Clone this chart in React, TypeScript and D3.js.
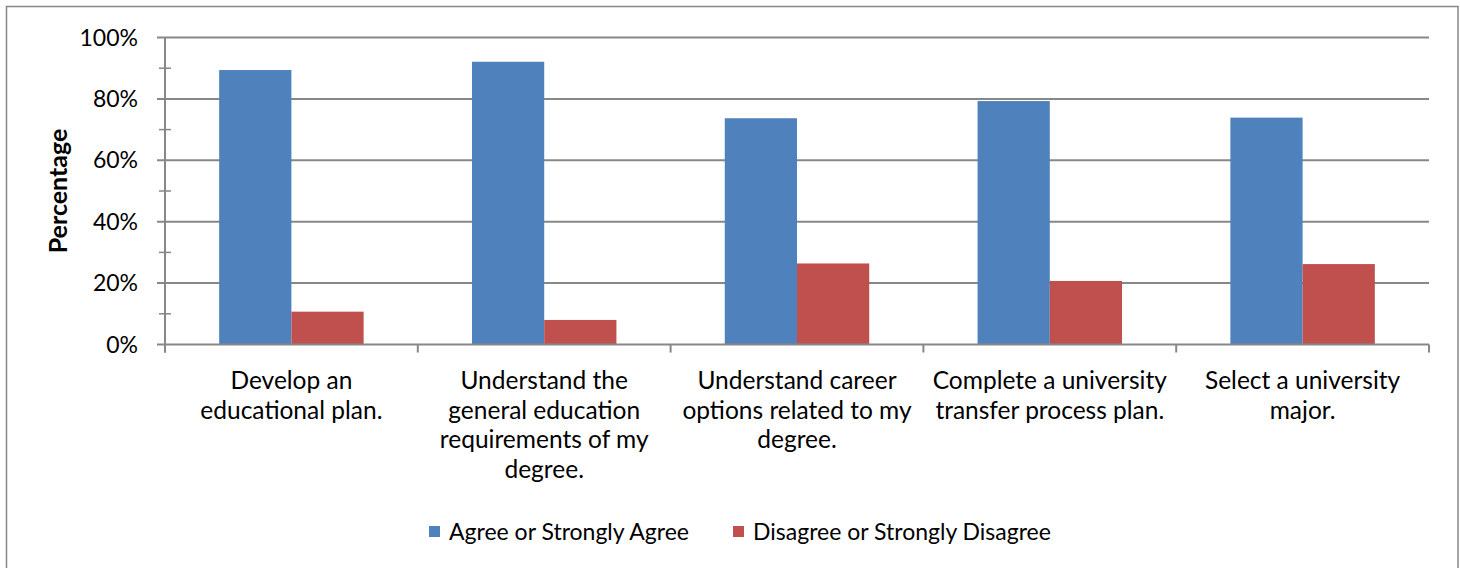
import { useEffect, useRef } from 'react';
import * as d3 from 'd3';

const categories = [
  ['Develop an', 'educational plan.'],
  ['Understand the', 'general education', 'requirements of my', 'degree.'],
  ['Understand career', 'options related to my', 'degree.'],
  ['Complete a university', 'transfer process plan.'],
  ['Select a university', 'major.'],
];
const seriesNames = ['Agree or Strongly Agree', 'Disagree or Strongly Disagree'];
const agree = [89.4, 92.1, 73.7, 79.3, 73.9];
const disagree = [10.7, 8.0, 26.4, 20.7, 26.2];
const yTicks = [0, 20, 40, 60, 80, 100];
const colors = ['#4f81bd', '#c0504d'];

const W = 1460;
const H = 568;
const FONT = 'Lato, "Open Sans", sans-serif';

export default function App() {
  const ref = useRef<SVGSVGElement>(null);

  useEffect(() => {
    const svg = d3.select(ref.current);
    svg.selectAll('*').remove();

    const m = { left: 165, right: 1429, top: 37.5, bottom: 344.5 };
    const grid = '#878787';

    svg.append('rect')
      .attr('x', 6.5).attr('y', 6.5).attr('width', 1451.5).attr('height', 600)
      .attr('fill', '#fff').attr('stroke', '#878787').attr('stroke-width', 1.5);

    const x0 = d3.scaleBand<number>().domain(d3.range(categories.length)).range([m.left, m.right]);
    const x1 = d3.scaleBand<number>().domain([0, 1]).range([0, x0.bandwidth()]).paddingOuter(0.75);
    const y = d3.scaleLinear().domain([0, 100]).range([m.bottom, m.top]);

    // gridlines
    svg.append('g').selectAll('line').data(yTicks.slice(1)).join('line')
      .attr('x1', m.left - 8).attr('x2', m.right)
      .attr('y1', d => y(d)).attr('y2', d => y(d))
      .attr('stroke', grid).attr('stroke-width', 2);

    // minor ticks
    svg.append('g').selectAll('line').data(d3.range(10, 100, 20)).join('line')
      .attr('x1', m.left - 6).attr('x2', m.left + 6)
      .attr('y1', d => y(d)).attr('y2', d => y(d))
      .attr('stroke', grid).attr('stroke-width', 1.5);

    // bars
    const data = [agree, disagree];
    const g = svg.append('g');
    categories.forEach((_, i) => {
      data.forEach((vals, s) => {
        g.append('rect')
          .attr('x', x0(i)! + x1(s)!)
          .attr('width', x1.bandwidth())
          .attr('y', y(vals[i]))
          .attr('height', y(0) - y(vals[i]))
          .attr('fill', colors[s]);
      });
    });

    // axes
    svg.append('line').attr('x1', m.left).attr('x2', m.left)
      .attr('y1', m.top).attr('y2', m.bottom + 8).attr('stroke', grid).attr('stroke-width', 2);
    svg.append('line').attr('x1', m.left - 8).attr('x2', m.right)
      .attr('y1', m.bottom).attr('y2', m.bottom).attr('stroke', grid).attr('stroke-width', 2);
    svg.append('g').selectAll('line').data(d3.range(categories.length + 1)).join('line')
      .attr('x1', d => m.left + d * x0.step()).attr('x2', d => m.left + d * x0.step())
      .attr('y1', m.bottom).attr('y2', m.bottom + 8)
      .attr('stroke', grid).attr('stroke-width', 2);

    // y labels
    svg.append('g').selectAll('text').data(yTicks).join('text')
      .attr('x', m.left - 27).attr('y', d => y(d)).attr('dy', '0.35em')
      .attr('text-anchor', 'end').attr('font-family', FONT).attr('font-size', 23)
      .attr('fill', '#000').text(d => `${d}%`);

    svg.append('text')
      .attr('transform', `translate(67,${(m.top + m.bottom) / 2}) rotate(-90)`)
      .attr('text-anchor', 'middle').attr('font-family', FONT).attr('font-size', 25)
      .attr('font-weight', 'bold').text('Percentage');

    // category labels
    categories.forEach((lines, i) => {
      const t = svg.append('text')
        .attr('text-anchor', 'middle').attr('font-family', FONT).attr('font-size', 24.5)
        .attr('fill', '#000');
      lines.forEach((ln, k) => {
        t.append('tspan').attr('x', x0(i)! + x0.bandwidth() / 2)
          .attr('y', 389 + k * 29.5).text(ln);
      });
    });

    // legend
    const leg = [{ x: 429, tx: 449 }, { x: 733, tx: 753 }];
    seriesNames.forEach((name, s) => {
      svg.append('rect').attr('x', leg[s].x).attr('y', 526).attr('width', 11).attr('height', 11)
        .attr('fill', colors[s]);
      svg.append('text').attr('x', leg[s].tx).attr('y', 531.5).attr('dy', '0.35em')
        .attr('font-family', FONT).attr('font-size', 23).attr('fill', '#000').text(name);
    });
  }, []);

  return (
    <div style={{ position: 'absolute', left: 0, top: 0 }}>
      <svg ref={ref} width={W} height={H} style={{ display: 'block' }} />
    </div>
  );
}
